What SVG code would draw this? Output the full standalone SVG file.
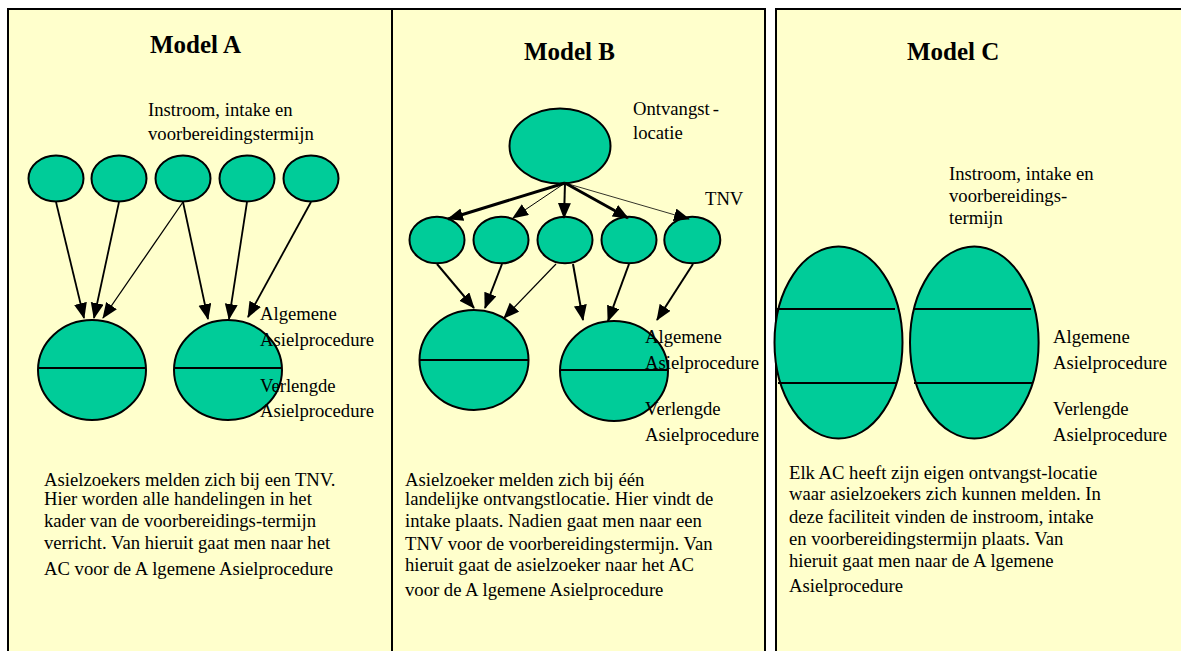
<svg xmlns="http://www.w3.org/2000/svg" width="1181" height="651" viewBox="0 0 1181 651">
<style>
.panel{fill:#FFFFCC;stroke:#000;stroke-width:2}
.node{fill:#00CC99;stroke:#000;stroke-width:2}
.div{stroke:#000;stroke-width:2;fill:none}
.t{font-family:"Liberation Serif","Times New Roman",serif;font-size:18.67px;fill:#000}
.title{font-family:"Liberation Serif","Times New Roman",serif;font-size:25px;font-weight:bold;fill:#000}
.c{stroke:#000;fill:none;marker-end:url(#ah)}
</style>
<defs>
<marker id="ah" markerUnits="userSpaceOnUse" markerWidth="17" markerHeight="14" refX="15" refY="6.5" orient="auto">
<path d="M0,0 L16,6.5 L0,13 Z" fill="#000"/>
</marker>
</defs>
<rect width="1181" height="651" fill="#fff"/>
<g id="panelA">
<rect class="panel" x="8" y="9" width="384" height="660"/>
<text class="title" x="150" y="53">Model A</text>
</g>
<g id="panelB">
<rect class="panel" x="392" y="9" width="373" height="660"/>
<text class="title" x="524" y="60">Model B</text>
</g>
<g id="panelC">
<rect class="panel" x="776" y="9" width="420" height="660"/>
<text class="title" x="907" y="60">Model C</text>
</g>
<g id="A-intake">
<ellipse class="node" cx="56" cy="178.5" rx="27.5" ry="23"/>
<ellipse class="node" cx="119" cy="178.5" rx="27.5" ry="23"/>
<ellipse class="node" cx="183" cy="178.5" rx="27.5" ry="23"/>
<ellipse class="node" cx="247" cy="178.5" rx="27.5" ry="23"/>
<ellipse class="node" cx="311" cy="178.5" rx="27.5" ry="23"/>
<text class="t" x="148" y="116">Instroom, intake en</text>
<text class="t" x="148" y="140">voorbereidingstermijn</text>
</g>
<g id="A-ac1">
<ellipse class="node" cx="92" cy="370" rx="54" ry="50"/>
<line class="div" x1="38" y1="368" x2="146" y2="368"/>
</g>
<g id="A-ac2">
<ellipse class="node" cx="228" cy="370" rx="54" ry="50"/>
<line class="div" x1="174" y1="368" x2="282" y2="368"/>
</g>
<g id="A-labels">
<text class="t" x="260" y="320">Algemene</text>
<text class="t" x="260" y="346">Asielprocedure</text>
<text class="t" x="260" y="392">Verlengde</text>
<text class="t" x="260" y="417">Asielprocedure</text>
</g>
<g id="A-desc">
<text class="t" x="44" y="486">Asielzoekers melden zich bij een TNV.</text>
<text class="t" x="44" y="505">Hier worden alle handelingen in het</text>
<text class="t" x="44" y="527">kader van de voorbereidings-termijn</text>
<text class="t" x="44" y="549">verricht. Van hieruit gaat men naar het</text>
<text class="t" x="44" y="575">AC voor de A<tspan dx="4">lgemene</tspan> Asielprocedure</text>
</g>
<g id="B-ontvangst">
<ellipse class="node" cx="560" cy="146" rx="50.5" ry="37.5"/>
<text class="t" x="633" y="115">Ontvangst<tspan dx="3">-</tspan></text>
<text class="t" x="633" y="139">locatie</text>
</g>
<g id="B-tnv">
<ellipse class="node" cx="437" cy="240" rx="27.5" ry="23.3"/>
<ellipse class="node" cx="501" cy="240" rx="27.5" ry="23.3"/>
<ellipse class="node" cx="565" cy="240" rx="27.5" ry="23.3"/>
<ellipse class="node" cx="629" cy="240" rx="27.5" ry="23.3"/>
<ellipse class="node" cx="692.3" cy="240" rx="28" ry="23.3"/>
<text class="t" x="705" y="205">TNV</text>
</g>
<g id="B-ac1">
<ellipse class="node" cx="474" cy="360" rx="54.5" ry="50"/>
<line class="div" x1="419.5" y1="360" x2="528.5" y2="360"/>
</g>
<g id="B-ac2">
<ellipse class="node" cx="614" cy="371" rx="54" ry="50"/>
<line class="div" x1="560" y1="370" x2="668" y2="370"/>
</g>
<g id="B-labels">
<text class="t" x="645" y="343">Algemene</text>
<text class="t" x="645" y="369">Asielprocedure</text>
<text class="t" x="645" y="415">Verlengde</text>
<text class="t" x="645" y="441">Asielprocedure</text>
</g>
<g id="B-desc">
<text class="t" x="405" y="486">Asielzoeker melden zich bij één</text>
<text class="t" x="405" y="505">landelijke ontvangstlocatie. Hier vindt de</text>
<text class="t" x="405" y="527">intake plaats. Nadien gaat men naar een</text>
<text class="t" x="405" y="550">TNV voor de voorbereidingstermijn. Van</text>
<text class="t" x="405" y="571">hieruit gaat de asielzoeker naar het AC</text>
<text class="t" x="405" y="596">voor de A<tspan dx="4">lgemene</tspan> Asielprocedure</text>
</g>
<g id="C-ac1">
<ellipse class="node" cx="838.5" cy="342.5" rx="64" ry="96"/>
<line class="div" x1="777" y1="309" x2="895" y2="309"/>
<line class="div" x1="778" y1="383" x2="896" y2="383"/>
</g>
<g id="C-ac2">
<ellipse class="node" cx="974.3" cy="342.5" rx="64.3" ry="96"/>
<line class="div" x1="913" y1="309" x2="1031" y2="309"/>
<line class="div" x1="914" y1="383" x2="1032" y2="383"/>
</g>
<g id="C-labels">
<text class="t" x="949" y="180">Instroom, intake en</text>
<text class="t" x="949" y="202">voorbereidings-</text>
<text class="t" x="949" y="224">termijn</text>
<text class="t" x="1053" y="343">Algemene</text>
<text class="t" x="1053" y="369">Asielprocedure</text>
<text class="t" x="1053" y="415">Verlengde</text>
<text class="t" x="1053" y="441">Asielprocedure</text>
</g>
<g id="C-desc">
<text class="t" x="789" y="479">Elk AC heeft zijn eigen ontvangst-locatie</text>
<text class="t" x="789" y="500">waar asielzoekers zich kunnen melden. In</text>
<text class="t" x="789" y="523">deze faciliteit vinden de instroom, intake</text>
<text class="t" x="789" y="545">en voorbereidingstermijn plaats. Van</text>
<text class="t" x="789" y="567">hieruit gaat men naar de A<tspan dx="4">lgemene</tspan></text>
<text class="t" x="789" y="592">Asielprocedure</text>
</g>
<g id="connectors">
<path class="c" stroke-width="1.8" d="M56,202 L84,318"/>
<path class="c" stroke-width="1.8" d="M119,202 L94,318"/>
<path class="c" stroke-width="1.3" d="M183,202 L103,318"/>
<path class="c" stroke-width="1.8" d="M183,202 L208,319"/>
<path class="c" stroke-width="1.8" d="M247,202 L229,319"/>
<path class="c" stroke-width="1.8" d="M311,202 L248,317"/>
<path class="c" stroke-width="3" d="M565,183 L448,219"/>
<path class="c" stroke-width="1" d="M565,183 L513,218"/>
<path class="c" stroke-width="2" d="M565,183 L564,218"/>
<path class="c" stroke-width="3" d="M565,183 L628,218"/>
<path class="c" stroke-width="0.8" d="M565,183 L689,219"/>
<path class="c" stroke-width="2" d="M437,264 L474,308"/>
<path class="c" stroke-width="2" d="M502,264 L485,308"/>
<path class="c" stroke-width="1.2" d="M556,264 L504,318"/>
<path class="c" stroke-width="2" d="M573,264 L583,320"/>
<path class="c" stroke-width="2" d="M629,264 L608,321"/>
<path class="c" stroke-width="2" d="M693,264 L657,320"/>
</g>
</svg>
